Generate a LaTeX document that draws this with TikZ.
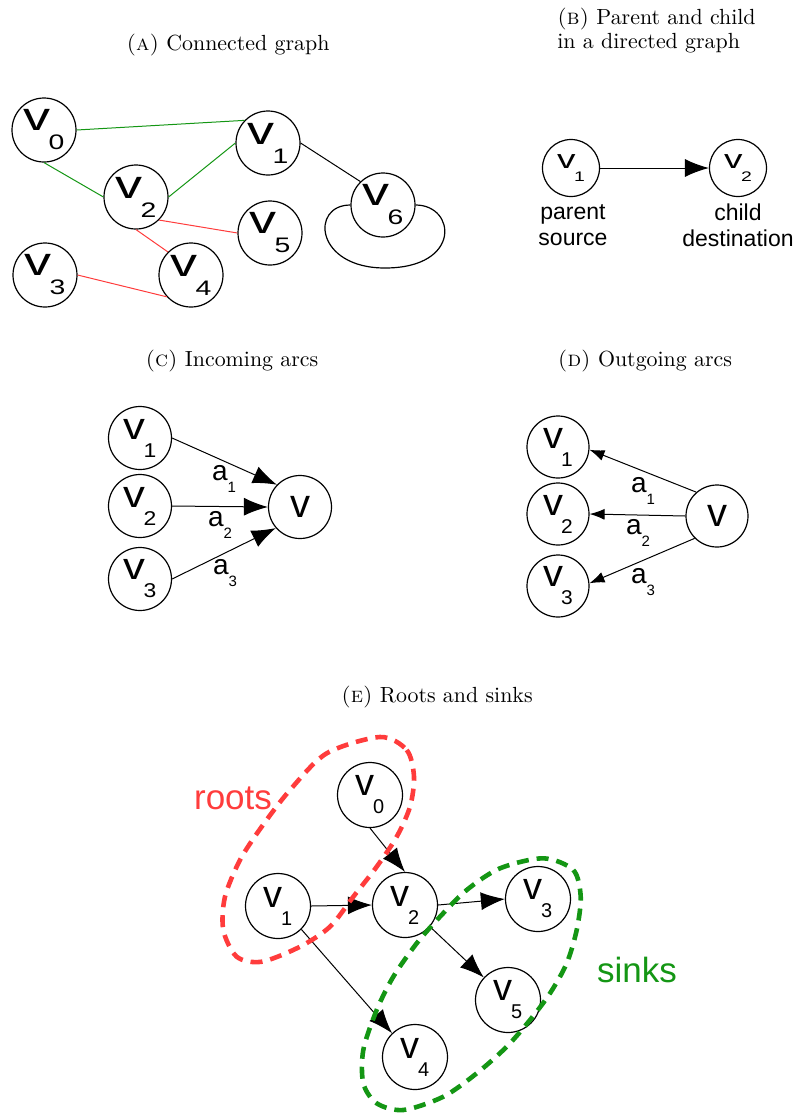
\documentclass[tikz,border=0pt]{standalone}
\usepackage{fontspec}
\usepackage{graphicx}
\usetikzlibrary{arrows.meta}
\newfontfamily\sansf{Liberation Sans}
\definecolor{myred}{RGB}{255,60,60}
\definecolor{mygreen}{RGB}{20,150,20}
% vertex label v_i (scale, stretch, index) and arc label a_i
\newcommand{\vtx}[3]{\scalebox{#1}{\sansf\scalebox{#2}[1]{\fontsize{20}{20}\selectfont v}\kern-1pt\raisebox{-9.5pt}{\scalebox{#2}[1]{\fontsize{10.5}{10.5}\selectfont #3}}}}
\newcommand{\atx}[1]{{\sansf\fontsize{14}{14}\selectfont a\raisebox{-6pt}{\fontsize{7.5}{7.5}\selectfont #1}}}
\begin{document}
\begin{tikzpicture}[x=0.5pt,y=-0.5pt,
    vert/.style={draw, circle, line width=0.6pt, inner sep=0pt, minimum size=#1},
    vert/.default=32pt,
    arr/.style={line width=0.5pt, -{Latex[length=12pt,width=9pt]}},
    captxt/.style={font=\fontsize{10.95}{12}\selectfont, anchor=base},
    lbl/.style={font=\sansf\fontsize{11.5}{13}\selectfont, align=center},
    ring/.style={line width=2.3pt, dash pattern=on 6pt off 4pt}]
    \useasboundingbox (0,0) rectangle (797,1115);

    % (a) connected graph
    \node[captxt] (capa) at (228,50) {\textsc{(a)} Connected graph};
    \node[vert] (v0a) at (44,130) {\vtx{1}{1.35}{0}};
    \node[vert] (v1a) at (268,143) {\vtx{1}{1.35}{1}};
    \node[vert] (v2a) at (136,197) {\vtx{1}{1.35}{2}};
    \node[vert] (v5a) at (270,233) {\vtx{1}{1.35}{5}};
    \node[vert] (v3a) at (45,275) {\vtx{1}{1.35}{3}};
    \node[vert] (v4a) at (191,275) {\vtx{1}{1.35}{4}};
    \node[vert] (v6a) at (383,205) {\vtx{1}{1.35}{6}};
    \draw[mygreen, line width=0.5pt] (v0a.east) -- (v1a.136);
    \draw[mygreen, line width=0.5pt] (v0a.south) -- (v2a.west);
    \draw[mygreen, line width=0.5pt] (v2a.east) -- (v1a.west);
    \draw[line width=0.5pt] (v1a.east) -- (v6a.134);
    \draw[myred, line width=0.5pt] (v2a.-45) -- (v5a.west);
    \draw[myred, line width=0.5pt] (v2a.south) -- (v4a.135);
    \draw[myred, line width=0.5pt] (v3a.east) -- (v4a.222);
    \draw[line width=0.6pt] (v6a.west) .. controls (310,205) and (315,268) .. (385,268)
        .. controls (462,268) and (456,205) .. (v6a.east);

    % (b) parent and child
    \node[captxt, anchor=north west, align=left, inner sep=0pt] (capb) at (557,8)
        {\textsc{(b)} Parent and child\\in a directed graph};
    \node[vert=28.5pt] (v1b) at (571,168) {\vtx{0.66}{1.4}{1}};
    \node[vert=28.5pt] (v2b) at (738,168) {\vtx{0.66}{1.4}{2}};
    \draw[arr] (v1b) -- (v2b);
    \node[lbl] (srcb) at (573,225) {parent\\source};
    \node[lbl] (dstb) at (738,225) {child\\destination};

    % (c) incoming arcs
    \node[captxt] (capc) at (232,366) {\textsc{(c)} Incoming arcs};
    \node[vert=31.5pt] (v1c) at (140,438) {\vtx{0.95}{1.15}{1}};
    \node[vert=31.5pt] (v2c) at (140,506) {\vtx{0.95}{1.15}{2}};
    \node[vert=31.5pt] (v3c) at (140,579) {\vtx{0.95}{1.15}{3}};
    \node[vert=31.5pt] (vc) at (300,507) {\sansf\fontsize{20}{20}\selectfont v};
    \draw[arr] (v1c.east) -- (vc.136);
    \draw[arr] (v2c.east) -- (vc.west);
    \draw[arr] (v3c.east) -- (vc.221);
    \node (a1c) at (224,479) {\atx{1}};
    \node (a2c) at (220,525) {\atx{2}};
    \node (a3c) at (225,573) {\atx{3}};

    % (d) outgoing arcs
    \node[captxt] (capd) at (645,366) {\textsc{(d)} Outgoing arcs};
    \node[vert=31pt] (v1d) at (558,447) {\vtx{0.95}{1.05}{1}};
    \node[vert=31pt] (v2d) at (558,514) {\vtx{0.95}{1.05}{2}};
    \node[vert=31pt] (v3d) at (558,586) {\vtx{0.95}{1.05}{3}};
    \node[vert=31pt] (vd) at (717,516) {\sansf\fontsize{20}{20}\selectfont v};
    \draw[line width=0.5pt, -{Latex[length=7.5pt,width=5.5pt]}] (vd.131) -- (v1d.-5);
    \draw[line width=0.5pt, -{Latex[length=7.5pt,width=5.5pt]}] (vd.west) -- (v2d.east);
    \draw[line width=0.5pt, -{Latex[length=7.5pt,width=5.5pt]}] (vd.225) -- (v3d.5);
    \node (a1d) at (643,491) {\atx{1}};
    \node (a2d) at (638,533) {\atx{2}};
    \node (a3d) at (643,582) {\atx{3}};

    % (e) roots and sinks
    \node[captxt] (cape) at (437,702) {\textsc{(e)} Roots and sinks};
    \node[vert=32.5pt] (v0e) at (370,795) {\vtx{0.95}{1}{0}};
    \node[vert=32.5pt] (v1e) at (278,906) {\vtx{0.95}{1}{1}};
    \node[vert=32.5pt] (v2e) at (405,905) {\vtx{0.95}{1}{2}};
    \node[vert=32.5pt] (v3e) at (538,899) {\vtx{0.95}{1}{3}};
    \node[vert=32.5pt] (v5e) at (508,1000) {\vtx{0.95}{1}{5}};
    \node[vert=32.5pt] (v4e) at (415,1057) {\vtx{0.95}{1}{4}};
    \draw[arr] (v0e.south) -- (v2e.north);
    \draw[arr] (v1e.east) -- (v2e.west);
    \draw[arr] (v2e.east) -- (v3e.west);
    \draw[arr] (v2e.-41) -- (v5e.137);
    \draw[arr] (v1e.-45) -- (v4e.134);
    \draw[ring, myred] plot[smooth cycle] coordinates {(380,737) (406.7,750) (414,776.7)
        (410,806.7) (396.7,836.7) (376.7,866.7) (353.3,896.7) (330,926.7) (300,946.7)
        (261.7,961.7) (236.7,956.7) (223.3,930) (225,896.7) (240,860) (261.7,826.7)
        (290,790) (326.7,753.3)};
    \draw[ring, mygreen] plot[smooth cycle] coordinates {(543.3,858.3) (573.3,870)
        (580.7,896.7) (576.7,930) (566.7,963.3) (550,993.3) (530,1020) (506.7,1046.7)
        (476.7,1073.3) (443.3,1096.7) (403.3,1110) (376.7,1103.3) (363.3,1083.3)
        (363.3,1050) (376.7,1010) (393.3,976.7) (416.7,943.3) (440,916.7) (466.7,890)
        (500,868.3)};
    \node[anchor=base, myred, font=\sansf\fontsize{17.5}{17.5}\selectfont] (roots) at (233,809) {roots};
    \node[anchor=base, mygreen, font=\sansf\fontsize{17.5}{17.5}\selectfont] (sinks) at (637,982) {sinks};
\end{tikzpicture}
\end{document}
